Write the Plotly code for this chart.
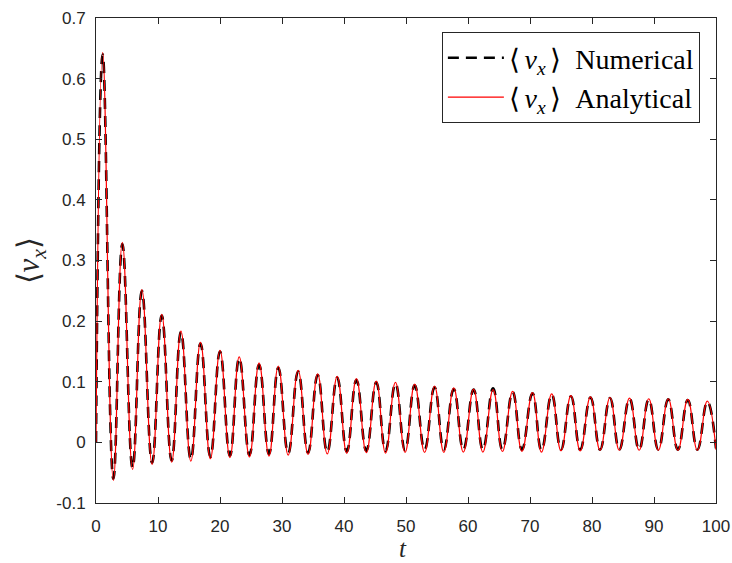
import plotly.graph_objects as go

# ---- data ----
t_start, t_end = 0.0, 100.0
v_start_ana, v_end_ana = 0.0, -0.012
v_start_num, v_end_num = 0.0, -0.010

peak_t = [1.08, 4.25, 7.4, 10.6, 13.7, 16.85, 20.0, 23.1, 26.3, 29.4, 32.6, 35.75,
          38.9, 42.0, 45.2, 48.3, 51.4, 54.6, 57.7, 60.9, 64.05, 67.2, 70.4, 73.5,
          76.6, 79.75, 82.9, 86.05, 89.15, 92.3, 95.45, 98.6]
trough_t = [2.8, 5.9, 9.05, 12.2, 15.3, 18.45, 21.6, 24.75, 27.9, 31.0, 34.2, 37.3,
            40.45, 43.6, 46.7, 49.85, 53.0, 56.1, 59.25, 62.4, 65.55, 68.7, 71.85,
            75.0, 78.1, 81.3, 84.4, 87.6, 90.7, 93.85, 97.0]

peak_ana = [0.6435, 0.330, 0.252, 0.211, 0.1835, 0.165, 0.152, 0.141, 0.131, 0.126,
            0.119, 0.113, 0.109, 0.105, 0.101, 0.099, 0.096, 0.093, 0.090, 0.088,
            0.087, 0.084, 0.082, 0.080, 0.077, 0.075, 0.074, 0.073, 0.072, 0.072,
            0.071, 0.068]
trough_ana = [-0.0627, -0.0445, -0.0363, -0.0325, -0.031, -0.027, -0.025, -0.024,
              -0.0226, -0.021, -0.020, -0.019, -0.018, -0.017, -0.0176, -0.0165,
              -0.0165, -0.0165, -0.016, -0.016, -0.015, -0.015, -0.016, -0.014,
              -0.014, -0.013, -0.013, -0.013, -0.013, -0.013, -0.013]

peak_num = [0.640, 0.327, 0.250, 0.209, 0.182, 0.163, 0.150, 0.139, 0.128, 0.123,
            0.117, 0.111, 0.107, 0.103, 0.099, 0.097, 0.094, 0.091, 0.088, 0.087,
            0.089, 0.083, 0.081, 0.079, 0.076, 0.074, 0.073, 0.072, 0.071, 0.071,
            0.070, 0.067]
trough_num = [-0.060, -0.042, -0.034, -0.030, -0.028, -0.024, -0.022, -0.021,
              -0.019, -0.018, -0.017, -0.016, -0.015, -0.014, -0.014, -0.013,
              -0.012, -0.012, -0.012, -0.012, -0.012, -0.012, -0.013, -0.012,
              -0.012, -0.012, -0.012, -0.012, -0.012, -0.012, -0.012]

x_ticks = [0, 10, 20, 30, 40, 50, 60, 70, 80, 90, 100]
x_ticktext = ["0", "10", "20", "30", "40", "50", "60", "70", "80", "90", "100"]
y_ticks = [-0.1, 0, 0.1, 0.2, 0.3, 0.4, 0.5, 0.6, 0.7]
y_ticktext = ["-0.1", "0", "0.1", "0.2", "0.3", "0.4", "0.5", "0.6", "0.7"]

vx = "⟨\u2006<i>v</i><sub><i>x</i></sub>\u2006⟩"
name_num = vx + "\u2002Numerical"
name_ana = vx + "\u2002Analytical"


def assemble(t0, v0, pv, tv, t1, v1):
    ts, vs = [t0], [v0]
    for i in range(len(peak_t)):
        ts.append(peak_t[i]); vs.append(pv[i])
        if i < len(trough_t):
            ts.append(trough_t[i]); vs.append(tv[i])
    ts.append(t1); vs.append(v1)
    return ts, vs


tn, vn = assemble(t_start, v_start_num, peak_num, trough_num, t_end, v_end_num)
ta, va = assemble(t_start, v_start_ana, peak_ana, trough_ana, t_end, v_end_ana)

AX = "#262626"
fig = go.Figure()
fig.add_trace(go.Scatter(x=tn, y=vn, mode="lines", name=name_num,
                         line=dict(color="black", width=2.6, dash="11px,7px",
                                   shape="spline", smoothing=1.3)))
fig.add_trace(go.Scatter(x=ta, y=va, mode="lines", name=name_ana,
                         line=dict(color="#ff0000", width=1.2,
                                   shape="spline", smoothing=1.3)))

axis_common = dict(showline=True, linecolor=AX, linewidth=1, mirror="ticks",
                   ticks="inside", ticklen=6, tickwidth=1, tickcolor=AX,
                   showgrid=False, zeroline=False, automargin=False,
                   tickfont=dict(family="Liberation Sans", size=17, color=AX))

fig.update_xaxes(range=[0, 100], tickvals=x_ticks, ticktext=x_ticktext,
                 ticklabelstandoff=8, **axis_common)
fig.update_yaxes(range=[-0.1, 0.7], tickvals=y_ticks, ticktext=y_ticktext,
                 ticklabelstandoff=6, **axis_common)

fig.update_layout(
    width=732, height=563,
    margin=dict(l=96, r=16, t=18, b=60),
    paper_bgcolor="white", plot_bgcolor="white",
    showlegend=True,
    legend=dict(x=0.974, y=0.971, xanchor="right", yanchor="top",
                bgcolor="white", bordercolor=AX, borderwidth=1,
                font=dict(family="Liberation Serif", size=28, color="black"),
                itemwidth=56, tracegroupgap=0),
    annotations=[
        dict(text="⟨<i>v</i><sub><i>x</i></sub>⟩", xref="paper", yref="paper",
             x=-0.105, y=0.5, xanchor="center", yanchor="middle", textangle=-90,
             showarrow=False, font=dict(family="Liberation Serif", size=31, color=AX)),
        dict(text="<i>t</i>", xref="paper", yref="paper",
             x=0.495, y=-0.0945, xanchor="center", yanchor="middle",
             showarrow=False,
             font=dict(family="Liberation Serif", size=25, color=AX)),
    ],
)

fig.write_html("out.html")
